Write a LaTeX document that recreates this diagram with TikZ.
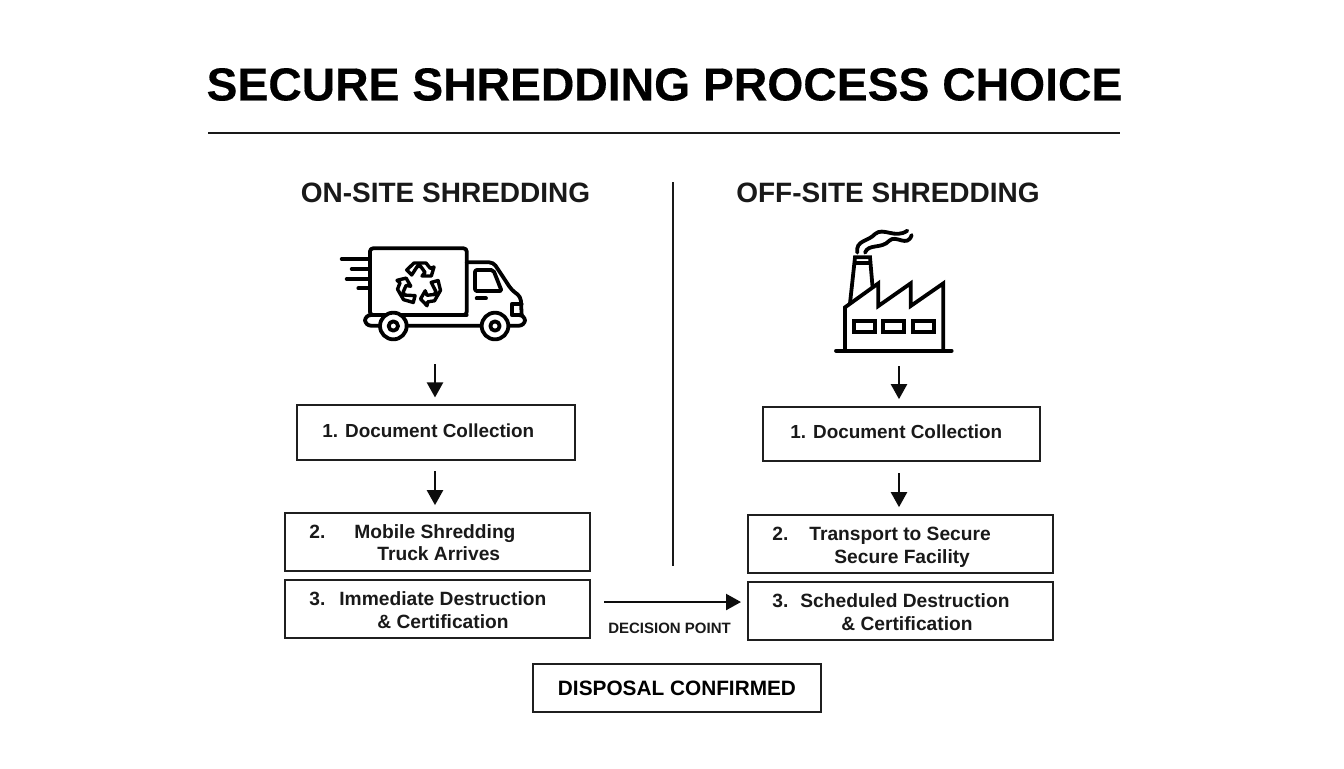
\documentclass[tikz,border=0pt]{standalone}
\usepackage{fontspec}
\setmainfont{Liberation Sans}
\newfontfamily\titlefont[FakeBold=0.3]{Liberation Sans Bold}
\usetikzlibrary{arrows.meta,calc}
\tikzset{
  stepbox/.style={draw=black!88,line width=0.85pt,rectangle,inner sep=0pt,fill=white},
  boxtext/.style={font=\fontsize{9.6}{11}\selectfont\bfseries,inner sep=0pt,anchor=base west,text=black!90},
  boxtextb/.style={boxtext,font=\fontsize{9.45}{11}\selectfont\bfseries},
  heading/.style={font=\fontsize{14}{16}\selectfont\bfseries,inner sep=0pt,text=black!90},
  arr/.style={line width=1.15pt,-{Triangle[length=7.5pt,width=8pt]},black!95},
  rulel/.style={line width=0.95pt,black!90},
  icon/.style={line width=1.9pt,line join=round,line cap=round,black},
  iconx/.style={shift={(#1)},x=0.16667pt,y=-0.16667pt}
}
\newcommand{\recyc}{%
 \draw[line width=1.7pt,line join=round,fill=white] (-38,-43)--(-16,-64)--(20,-64)--(33,-48)--(44,-52)--(36,-25)--(8,-25)--(17,-36)--(4,-54)--(-6,-54)--(-23,-28)--cycle;}
\begin{document}
\begin{tikzpicture}[x=0.5pt,y=-0.5pt]
\useasboundingbox (0,0) rectangle (1344,768);
\fill[white] (0,0) rectangle (1344,768);

\node[font=\titlefont\fontsize{23.15}{26}\selectfont,inner sep=0pt,text=black] (title) at (664.5,84.5) {SECURE SHREDDING PROCESS CHOICE};
\coordinate (ruleL) at (208,133);
\coordinate (ruleR) at (1120,133);
\draw[rulel] (ruleL) -- (ruleR);

\node[heading] (onsite) at (445.5,193) {ON-SITE SHREDDING};
\node[heading] (offsite) at (888,193) {OFF-SITE SHREDDING};
\coordinate (divT) at (673,182);
\coordinate (divB) at (673,566);
\draw[rulel] (divT) -- (divB);

% truck icon
\begin{scope}[iconx={330,235}]
 \draw[icon,rounded corners=1.5pt] (120,240)--(120,40)--(410,40)--(410,240)--cycle;
 \draw[icon] (35,72)--(118,72) (65,102)--(118,102) (50,132)--(118,132) (85,160)--(118,160);
 \draw[icon,rounded corners=2pt] (410,82)--(490,82)--(545,165)--(572,185)--(575,240);
 \draw[icon,rounded corners=1pt] (435,105)--(490,105)--(515,168)--(435,168)--cycle;
 \draw[icon] (440,190)--(468,190);
 \draw[icon] (575,207)--(545,207)--(545,240)--(575,240);
 \draw[icon,rounded corners=3pt] (120,240)--(105,240)--(105,272)--(585,272)--(585,240)--(575,240);
 \draw[icon] (120,240)--(410,240);
 \foreach \cx in {190,495}{
  \draw[icon,fill=white] (\cx,273) circle[radius=40];
  \draw[icon] (\cx,273) circle[radius=14];
 }
 \begin{scope}[shift={(268,148)}]
  \recyc
  \begin{scope}[rotate=120]\recyc\end{scope}
  \begin{scope}[rotate=240]\recyc\end{scope}
 \end{scope}
\end{scope}

% factory icon
\begin{scope}[iconx={820,220}]
 \draw[icon] (48,392)--(395,392);
 \draw[icon,line cap=butt,miter limit=10,line join=miter] (75,392)--(75,262)--(175,190)--(175,258)--(272,190)--(272,258)--(370,190)--(370,392);
 \draw[icon,line cap=butt,line join=miter] (90,250)--(105,112)--(150,112)--(158,205);
 \draw[icon,line cap=butt] (103,130)--(152,130);
 \draw[icon,line join=miter] (102,302) rectangle (165,335);
 \draw[icon,line join=miter] (190,302) rectangle (252,335);
 \draw[icon,line join=miter] (280,302) rectangle (343,335);
 \draw[icon] (112,98) .. controls (106,60) and (145,65) .. (165,42) .. controls (190,20) and (225,58) .. (262,32);
 \draw[icon] (135,98) .. controls (145,70) and (185,88) .. (208,62) .. controls (228,42) and (262,85) .. (275,45);
\end{scope}

% left column
\node[stepbox,minimum width=139pt,minimum height=27.2pt] (l1) at (436,432.5) {};
\node[boxtextb] (l1t) at (322,437) {1. Document Collection};
\node[stepbox,minimum width=152.5pt,minimum height=29pt] (l2) at (437.5,542) {};
\node[boxtext] (l2n) at (309,538) {2.};
\node[boxtext] (l2a) at (354,538) {Mobile Shredding};
\node[boxtext] (l2b) at (377,560) {Truck Arrives};
\node[stepbox,minimum width=152.5pt,minimum height=29pt] (l3) at (437.5,609) {};
\node[boxtext] (l3a) at (309,605) {3.};
\node[boxtext] (l3b) at (339,605) {Immediate Destruction};
\node[boxtext] (l3c) at (377,628) {\& Certification};

% right column
\node[stepbox,minimum width=138.5pt,minimum height=27pt] (r1) at (901.5,434) {};
\node[boxtextb] (r1t) at (790,438) {1. Document Collection};
\node[stepbox,minimum width=152.5pt,minimum height=29pt] (r2) at (900.5,544) {};
\node[boxtext] (r2n) at (772,540) {2.};
\node[boxtext] (r2a) at (809,540) {Transport to Secure};
\node[boxtext] (r2b) at (834,563) {Secure Facility};
\node[stepbox,minimum width=152.5pt,minimum height=29pt] (r3) at (900.5,611) {};
\node[boxtext] (r3a) at (772,607) {3.};
\node[boxtext] (r3b) at (800,607) {Scheduled Destruction};
\node[boxtext] (r3c) at (841,630) {\& Certification};

\node[stepbox,minimum width=144pt,minimum height=24pt,font=\fontsize{10.4}{12}\selectfont\bfseries] (final) at (677,688) {DISPOSAL CONFIRMED};

% arrows
\coordinate (truckfoot) at (435,364);
\coordinate (factfoot) at (899,366);
\draw[arr,shorten >=3.5pt] (truckfoot) -- (truckfoot |- l1.north);
\draw[arr,shorten >=3.5pt] (factfoot) -- (factfoot |- r1.north);
\coordinate (l12) at (435,471);
\coordinate (r12) at (899,473);
\draw[arr,shorten >=3.5pt] (l12) -- (l12 |- l2.north);
\draw[arr,shorten >=3.5pt] (r12) -- (r12 |- r2.north);
\coordinate (decL) at (604,602);
\coordinate (decR) at (741,602);
\draw[arr] (decL) -- (decR);
\node[font=\fontsize{7.5}{9}\selectfont\bfseries,inner sep=0pt,text=black!90] (dec) at (669.5,628) {DECISION POINT};
\end{tikzpicture}
\end{document}
